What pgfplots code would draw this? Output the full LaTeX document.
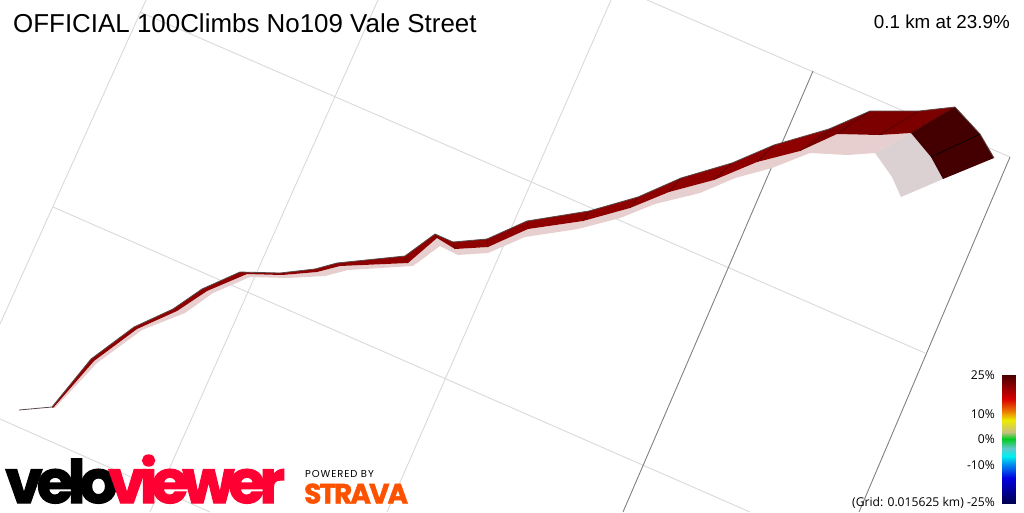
\documentclass[border=0pt]{standalone}
\usepackage{fontspec}
\usepackage{pgfplots}
\pgfplotsset{compat=1.18}
\usepgfplotslibrary{patchplots}
\setmainfont{Liberation Sans}
\newfontfamily\djv{Open Sans}
\newfontfamily\logo{Poppins}
\definecolor{lg}{HTML}{D9D9D9}
\definecolor{dg}{HTML}{808080}
\definecolor{sh}{HTML}{E7CFD0}
\definecolor{shg}{HTML}{DBD1D2}
\definecolor{r1}{HTML}{8F0000}
\definecolor{r2}{HTML}{7C0000}
\definecolor{r3}{HTML}{440000}
\definecolor{edge}{HTML}{5A4A4A}
\definecolor{vv}{HTML}{FF0033}
\definecolor{st}{HTML}{FC5200}
\begin{document}
\begin{tikzpicture}
\useasboundingbox (0,0) rectangle (1024pt,512pt);
\begin{axis}[
  at={(0,0)}, anchor=south west,
  scale only axis, width=1024pt, height=512pt,
  xmin=0, xmax=1024, ymin=0, ymax=512, y dir=reverse,
  hide axis, unbounded coords=jump,
  colormap={velo}{
    rgb255(375)=(74,0,0) rgb255(399)=(216,0,0) rgb255(411)=(236,120,0)
    rgb255(420)=(236,236,0) rgb255(432)=(200,192,128) rgb255(439)=(0,205,32)
    rgb255(448)=(96,200,200) rgb255(456)=(0,240,240) rgb255(464)=(0,144,240)
    rgb255(478)=(0,0,224) rgb255(503)=(0,0,80)},
  point meta min=375, point meta max=503,
]
% grid
\addplot[lg, line width=0.9pt] coordinates {(0,324)(146,0)};
\addplot[lg, line width=0.9pt] coordinates {(378,0)(150,512)};
\addplot[lg, line width=0.9pt] coordinates {(611,0)(387,512)};
\addplot[lg, line width=0.9pt] coordinates {(140,12)(925,353)};
\addplot[lg, line width=0.9pt] coordinates {(647,0)(1010,157)};
\addplot[lg, line width=0.9pt] coordinates {(53,207)(750,512)};
\addplot[lg, line width=0.9pt] coordinates {(0,419)(210,512)};
\addplot[dg, line width=0.9pt] coordinates {(813,71)(623,512)};
\addplot[dg, line width=0.9pt] coordinates {(1010,157)(859,512)};
% shadow
\addplot[fill=sh, draw=none] coordinates {(52,407)(94,361)(137,329)(177,311)(207,291)(247,274)(282,275)(317,272)(340,266)(408,263)(437,238)(455,249)(488,247)(528,229)(583,221)(630,208)(669,192)(714,180)(757,162)(800,151)(837,134)(879,135)(911,133)(875,153)(847,155)(810,153)(772,168)(735,178)(700,193)(655,204)(620,218)(578,229)(525,237)(488,253)(458,255)(440,246)(413,266)(348,270)(325,276)(288,278)(250,277)(213,293)(185,313)(142,330)(97,363)(55,408)} -- cycle;
\addplot[fill=shg, draw=none] coordinates {(911,133)(931,157)(943,179)(901,197)(892,177)(875,153)} -- cycle;
% ribbon
\addplot[fill=r1, draw=none] coordinates {(52,407)(91,359)(134,327)(173,309)(202,289)(240,272)(280,273)(315,269)(337,263)(405,256)(435,234)(453,242)(487,239)(527,221)(589,211)(638,197)(681,178)(732,163)(774,145)(829,129)(800,151)(757,162)(714,180)(669,192)(630,208)(583,221)(528,229)(488,247)(455,249)(437,238)(408,263)(340,266)(317,272)(282,275)(247,274)(207,291)(177,311)(137,329)(94,361)(53,408)} -- cycle;
\addplot[fill=r2, draw=none] coordinates {(829,129)(870,111)(919,111)(955,107)(911,133)(879,135)(837,134)(800,151)} -- cycle;
\addplot[fill=r3, draw=none] coordinates {(955,107)(980,134)(994,158)(943,179)(931,157)(911,133)} -- cycle;
% segment separators
\addplot[color=black!75!red, opacity=.8, line width=0.5pt] coordinates {(405,256)(408,263)(nan,nan)(435,234)(437,238)(nan,nan)(453,242)(455,249)(nan,nan)(487,239)(488,247)(nan,nan)(527,221)(528,229)(nan,nan)(589,211)(583,221)(nan,nan)(638,197)(630,208)(nan,nan)(681,178)(669,192)(nan,nan)(732,163)(714,180)(nan,nan)(774,145)(757,162)(nan,nan)(829,129)(800,151)(nan,nan)(870,111)(837,134)(nan,nan)(919,111)(879,135)(nan,nan)(955,107)(911,133)};
\addplot[color=black, line width=0.6pt] coordinates {(980,134)(931,157)};
% top edge
\addplot[color=edge, line width=0.8pt] coordinates {(19,410)(52,407)(91,359)(134,327)(173,309)(202,289)(240,272)(280,273)(315,269)(337,263)(405,256)(435,234)(453,242)(487,239)(527,221)(589,211)(638,197)(681,178)(732,163)(774,145)(829,129)(870,111)(919,111)(955,107)(980,134)(994,158)};
% colour bar
\addplot[patch, patch type=rectangle, shader=interp, point meta=explicit] table[meta=m] {
x y m
1002 375 375
1015 375 375
1015 399 399
1002 399 399
1002 399 399
1015 399 399
1015 411 411
1002 411 411
1002 411 411
1015 411 411
1015 420 420
1002 420 420
1002 420 420
1015 420 420
1015 432 432
1002 432 432
1002 432 432
1015 432 432
1015 439 439
1002 439 439
1002 439 439
1015 439 439
1015 448 448
1002 448 448
1002 448 448
1015 448 448
1015 456 456
1002 456 456
1002 456 456
1015 456 456
1015 464 464
1002 464 464
1002 464 464
1015 464 464
1015 478 478
1002 478 478
1002 478 478
1015 478 478
1015 503 503
1002 503 503
};
% text
\node[anchor=base west, inner sep=0pt, font=\fontsize{25.92}{26}\selectfont] at (axis cs:13,32) {OFFICIAL 100Climbs No109 Vale Street};
\node[anchor=base east, inner sep=0pt, font=\fontsize{18.8}{19}\selectfont] at (axis cs:1010,28) {0.1 km at 23.9\%};
\node[anchor=base east, inner sep=0pt, font=\djv\fontsize{12.15}{12}\selectfont] at (axis cs:995,379) {25\%};
\node[anchor=base east, inner sep=0pt, font=\djv\fontsize{12.15}{12}\selectfont] at (axis cs:995,418) {10\%};
\node[anchor=base east, inner sep=0pt, font=\djv\fontsize{12.15}{12}\selectfont] at (axis cs:995,443) {0\%};
\node[anchor=base east, inner sep=0pt, font=\djv\fontsize{12.15}{12}\selectfont] at (axis cs:995,469) {-10\%};
\node[anchor=base east, inner sep=0pt, font=\djv\fontsize{12.15}{12}\selectfont] at (axis cs:995,506) {(Grid: 0.015625 km) -25\%};
\node[anchor=base west, inner sep=0pt, font=\logo\bfseries\fontsize{60}{60}\selectfont] at (axis cs:5,503) {\addfontfeature{LetterSpace=-10,FakeBold=2}velo};
\node[anchor=base west, inner sep=0pt, text=vv, font=\logo\bfseries\fontsize{60}{60}\selectfont] at (axis cs:108,503) {\addfontfeature{LetterSpace=-10,FakeBold=2}viewer};
\node[anchor=base west, inner sep=0pt, font=\logo\fontsize{10}{10}\selectfont] at (axis cs:305,477) {\addfontfeature{LetterSpace=9}POWERED BY};
\node[anchor=base west, inner sep=0pt, text=st, font=\logo\bfseries\fontsize{28}{28}\selectfont] at (axis cs:304,503.5) {\addfontfeature{LetterSpace=-7,FakeBold=1.5}STRAVA};
\end{axis}
\end{tikzpicture}
\end{document}
